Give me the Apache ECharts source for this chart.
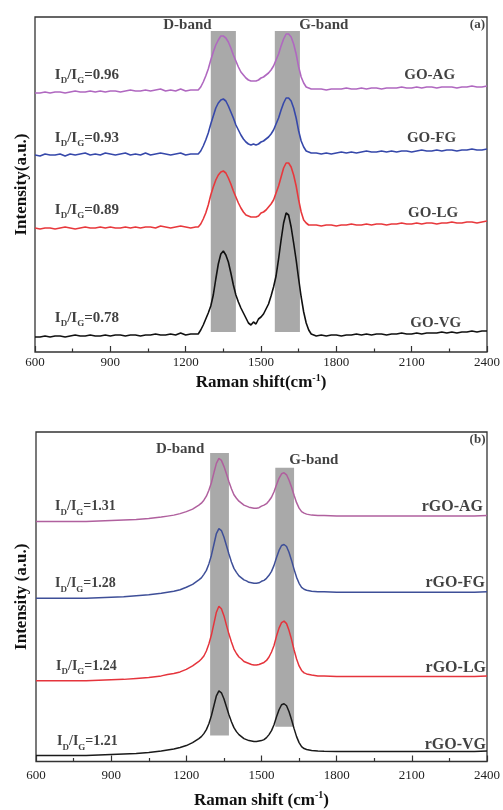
<!DOCTYPE html>
<html>
<head>
<meta charset="utf-8">
<script src="https://cdn.jsdelivr.net/npm/echarts/dist/echarts.min.js"></script>
<style>
html, body { margin: 0; padding: 0; background: #fff; }
#chart { width: 503px; height: 810px; }
</style>
</head>
<body>
<div id="chart"></div>
<script>
// ---- panel (a): GO samples, Raman shift (cm-1) ----
const shiftA = [600,620,640,660,680,700,720,740,760,780,800,820,840,860,880,900,920,940,960,980,1000,1020,1040,1060,1080,1100,1120,1140,1160,1180,1200,1220,1240,
  1250,1260,1270,1280,1290,1300,1310,1320,1330,1340,1350,1360,1370,1380,1390,1400,1410,1420,1430,1440,1450,1460,1470,1480,1490,1500,1510,1520,1530,1540,1550,1560,1570,1580,1590,1600,1610,1620,1630,1640,1650,1660,1670,1680,1690,1700,
  1720,1740,1760,1780,1800,1820,1840,1860,1880,1900,1920,1940,1960,1980,2000,2020,2040,2060,2080,2100,2120,2140,2160,2180,2200,2220,2240,2260,2280,2300,2320,2340,2360,2380,2400]

const goAG = [259,259,260,259,260,260,259,260,261,260,260,261,260,261,260,261,261,260,261,262,261,261,262,261,262,263,261,262,261,263,261,262,262,
  262,265,270,276,283,292,300,307,312,316,316,314,310,304,297,291,285,280,277,274,272,271,271,271,272,274,275,277,279,282,286,292,298,306,313,318,318,315,308,298,285,275,269,265,264,263,
  263,263,262,263,263,263,264,263,263,264,263,264,264,263,264,264,264,265,264,264,265,264,265,265,264,265,265,265,264,265,265,266,265,265,266]
const goFG = [197,196,198,197,197,198,196,198,197,198,199,197,198,197,199,198,197,198,199,197,198,197,199,197,198,199,198,197,198,199,197,198,198,
  198,201,206,212,219,228,236,244,249,252,253,251,246,240,234,227,222,217,213,210,208,207,208,207,208,210,211,213,215,218,222,228,234,242,249,254,254,251,244,234,221,211,205,201,200,199,
  199,198,199,198,199,200,199,200,199,200,201,200,200,201,200,201,200,201,201,200,201,202,201,201,202,201,202,202,201,202,202,203,202,202,203]
const goLG = [124,123,124,124,123,124,125,124,123,124,125,124,124,125,124,125,124,124,125,124,125,124,125,125,124,126,125,124,125,126,125,124,125,
  125,128,133,139,147,157,165,172,177,180,181,179,174,168,161,155,149,144,140,137,136,135,135,135,136,139,140,142,145,148,152,159,166,175,184,189,189,185,177,166,152,140,132,129,127,127,
  127,126,127,127,126,127,127,128,127,127,128,127,128,128,127,128,128,129,128,128,129,128,129,129,128,129,129,130,129,129,130,130,129,130,131]
const goVG = [15,15,16,15,16,16,15,16,17,16,16,17,16,16,17,16,17,17,16,17,17,16,17,17,18,17,17,18,17,19,17,18,18,
  18,22,27,33,39,46,57,73,88,98,101,97,90,79,67,57,50,44,39,34,29,27,30,28,33,35,38,43,48,56,65,76,93,112,129,139,137,125,109,92,73,55,40,29,22,18,
  16,17,16,17,17,16,17,17,18,17,18,17,18,18,17,18,18,19,18,18,19,18,19,19,19,20,19,20,19,20,20,21,20,21,21]

// ---- panel (b): rGO samples ----
const shiftB = [600,650,700,750,800,850,900,950,1000,1050,1100,1125,1150,1175,1200,1225,
  1250,1260,1270,1280,1290,1300,1310,1320,1330,1340,1350,1360,1370,1380,1390,1400,1410,1420,1430,1440,1450,1460,1470,1480,1490,1500,1510,1520,1530,1540,1550,1560,1570,1580,1590,1600,1610,1620,1630,1640,1650,1660,1670,1680,1690,1700,
  1725,1750,1800,1850,1900,1950,2000,2050,2100,2150,2200,2250,2300,2350,2400]

const rgoAG = [241,241,241,241,241,241.5,242,242.5,243,244,245.5,246.5,247.5,249,251,253.5,
  257.5,259.5,262.5,266.5,272.5,280,290,299.5,304.5,302.5,296.5,289,281,274,268,264.5,261.5,259.5,257.5,256.5,255.5,255,254.5,254.5,255,256.5,257.5,259,262,265.5,271,278,284.5,289,290,288,282.5,275.5,267.5,260,254.5,251,249.5,248.5,248,247.5,
  247,247,246.5,246.5,246.5,246.5,246.5,246.5,246.5,246.5,246.5,246.5,246.5,246.5,247]
const rgoFG = [164,164,164,164,164,164.5,165,165.5,166.5,167.5,169,170,171,172.5,175,178,
  182.5,184.5,188,192,198.5,207,218,229,234,232,225.5,217,208.5,200.5,194,190,186.5,184.5,182.5,181.5,180,179.5,179,179,179.5,181,182,184,187,191,197,205,212,217,218,216,210,202,193,185,179,175,173,172,171.5,171,
  170.5,170.5,170,170,170,170,170,170,170,170,170,170,170,170,170.5]
const rgoLG = [81,81,81,81,81,81.5,82,82.5,83.5,84.5,86,87.5,88.5,90,92.5,96,
  100.5,103,106,111,118,127,138.5,150,156,153.5,146.5,137,128,120,113,108.5,105,103,100.5,99.5,98.5,97.5,97,97,97.5,98.5,99.5,101.5,105,110,116.5,126,134,139.5,141,138.5,131.5,122.5,112,103,96,91.5,89,88,87.5,87,
  86,86,85.5,85.5,85.5,85.5,85.5,85.5,85.5,85.5,85.5,85.5,85.5,85.5,86]
const rgoVG = [6,6,6,6,6,6.5,7,7.5,8,9,10.5,11.5,12.5,14,16,19,
  23,25,28,32,38,46,56,66,71,69,63,55,47,40,34,30,27,25,23,22,21,20.5,20,20,20.5,21,22,24,27,31,37,45,52,57,58,56,50,42,33,25,19,15,13,12,11.5,11,
  10.5,10.3,10,10,10,10,10,10,10,10,10,10,10,10,10.5]

const samplesA = ['GO-AG', 'GO-FG', 'GO-LG', 'GO-VG']
const ratiosA = ['0.96', '0.93', '0.89', '0.78']
const samplesB = ['rGO-AG', 'rGO-FG', 'rGO-LG', 'rGO-VG']
const ratiosB = ['1.31', '1.28', '1.24', '1.21']
// D and G band ranges (cm-1)
const bandsA = [[1300, 1400], [1555, 1655]]
const bandsB = [[1295, 1370], [1555, 1630]]

// layout (data units of each panel)
const bandYA = [[20, 321], [20, 321]]
const bandYB = [[26, 310], [35, 295]]
const ratioPosA = [[679, 277], [679, 214], [679, 142], [679, 34]]
const namePosA = [[2273, 277], [2277, 214], [2285, 139], [2297, 29]]
const ratioPosB = [[676, 256], [676, 179], [680, 96], [684, 20]]
const namePosB = [[2384, 256], [2392, 179], [2396, 94], [2396, 17]]

const serif = '"Liberation Serif", "Times New Roman", serif'
const colorsA = ['#b068c0', '#3648aa', '#e8383c', '#111111']
const colorsB = ['#b0609e', '#3e4f98', '#e5343c', '#1a1a1a']

const chart = echarts.init(document.getElementById('chart'))

function curve(name, gi, xs, ys, color, width) {
  return {
    name: name,
    type: 'line',
    xAxisIndex: gi,
    yAxisIndex: gi,
    data: xs.map((x, i) => [x, ys[i]]),
    showSymbol: false,
    symbol: 'none',
    silent: true,
    lineStyle: { color: color, width: width },
    z: 3,
  }
}

function ratioItem(r, pos, size) {
  return {
    value: pos,
    label: {
      show: true, position: 'right', distance: 0, offset: [0, 6],
      formatter: '{m|I}{s|D}{m|/I}{s|G}{m|=' + r + '}',
      rich: {
        m: { fontFamily: serif, fontWeight: 'bold', fontSize: size, lineHeight: 14, verticalAlign: 'top', color: '#111' },
        s: { fontFamily: serif, fontWeight: 'bold', fontSize: 9, lineHeight: 26, color: '#111' },
      },
    },
  }
}

// where: 'left' = text ends at the point, 'center' = text centred on it
function textItem(text, pos, where, size) {
  return {
    value: pos,
    label: {
      show: true,
      position: [0, 0],
      align: where === 'left' ? 'right' : 'center',
      verticalAlign: 'middle',
      formatter: text,
      fontFamily: serif, fontWeight: 'bold', fontSize: size, color: '#111',
    },
  }
}

function labelSeries(gi, items, bands, bandY) {
  return {
    type: 'scatter',
    xAxisIndex: gi,
    yAxisIndex: gi,
    symbolSize: 0,
    silent: true,
    z: 1,
    data: items,
    markArea: {
      silent: true,
      itemStyle: { color: '#a9a9a9' },
      data: bands.map((b, i) => [{ coord: [b[0], bandY[i][0]] }, { coord: [b[1], bandY[i][1]] }]),
    },
  }
}

function xAxis(gi, margin, nameGap, title) {
  return {
    gridIndex: gi, type: 'value', min: 600, max: 2400, interval: 300,
    axisLine: { show: false },
    axisTick: { show: true, inside: true, length: 6, lineStyle: { color: '#333', width: 1.2 } },
    minorTick: { show: true, splitNumber: 2, length: 3.5, lineStyle: { color: '#333', width: 1.2 } },
    splitLine: { show: false },
    axisLabel: { margin: margin, fontFamily: serif, fontSize: 13, color: '#222', formatter: v => String(v) },
    name: title,
    nameLocation: 'middle',
    nameGap: nameGap,
    nameTextStyle: {
      rich: {
        t: { fontFamily: serif, fontWeight: 'bold', fontSize: 17, lineHeight: 20, color: '#111' },
        p: { fontFamily: serif, fontWeight: 'bold', fontSize: 10, lineHeight: 10, verticalAlign: 'top', color: '#111' },
      },
    },
  }
}

function yAxis(gi, max, title, gap) {
  return {
    gridIndex: gi, type: 'value', min: 0, max: max,
    axisLine: { show: false }, axisTick: { show: false }, axisLabel: { show: false }, splitLine: { show: false },
    name: title, nameLocation: 'middle', nameGap: gap,
    nameTextStyle: { fontFamily: serif, fontWeight: 'bold', fontSize: 17, color: '#111' },
  }
}

const itemsA = [
  ...ratiosA.map((r, i) => ratioItem(r, ratioPosA[i], 15)),
  ...samplesA.map((s, i) => textItem(s, namePosA[i], 'left', 15)),
  textItem('D-band', [1207, 327], 'center', 15),
  textItem('G-band', [1750, 327], 'center', 15),
  textItem('(a)', [2392, 327], 'left', 13),
]
const itemsB = [
  ...ratiosB.map((r, i) => ratioItem(r, ratioPosB[i], 14)),
  ...samplesB.map((s, i) => textItem(s, namePosB[i], 'left', 16)),
  textItem('D-band', [1175, 314], 'center', 15),
  textItem('G-band', [1709, 303], 'center', 15),
  textItem('(b)', [2394, 323], 'left', 13),
]

const option = {
  animation: false,
  backgroundColor: '#fff',
  grid: [
    { left: 35, top: 17, width: 454, height: 335, show: true, borderColor: '#333', borderWidth: 1.3 },
    { left: 36, top: 432, width: 451, height: 331, show: true, borderColor: '#333', borderWidth: 1.3 },
  ],
  xAxis: [
    xAxis(0, 4, 21, '{t|Raman shift(cm}{p|-1}{t|)}'),
    xAxis(1, 8, 29, '{t|Raman shift (cm}{p|-1}{t|)}'),
  ],
  yAxis: [
    yAxis(0, 335, 'Intensity(a.u.)', 5),
    yAxis(1, 331, 'Intensity (a.u.)', 6),
  ],
  series: [
    labelSeries(0, itemsA, bandsA, bandYA),
    labelSeries(1, itemsB, bandsB, bandYB),
    curve('GO-AG', 0, shiftA, goAG, colorsA[0], 1.6),
    curve('GO-FG', 0, shiftA, goFG, colorsA[1], 1.6),
    curve('GO-LG', 0, shiftA, goLG, colorsA[2], 1.6),
    curve('GO-VG', 0, shiftA, goVG, colorsA[3], 1.6),
    curve('rGO-AG', 1, shiftB, rgoAG, colorsB[0], 1.5),
    curve('rGO-FG', 1, shiftB, rgoFG, colorsB[1], 1.5),
    curve('rGO-LG', 1, shiftB, rgoLG, colorsB[2], 1.5),
    curve('rGO-VG', 1, shiftB, rgoVG, colorsB[3], 1.5),
  ],
}

chart.setOption(option)
</script>
</body>
</html>
